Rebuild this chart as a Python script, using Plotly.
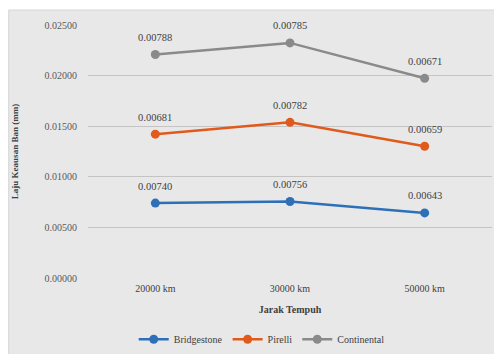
import plotly.graph_objects as go

categories = ["20000 km", "30000 km", "50000 km"]
bridgestone = [0.00740, 0.00756, 0.00643]
pirelli = [0.00681, 0.00782, 0.00659]
continental = [0.00788, 0.00785, 0.00671]
series_names = ["Bridgestone", "Pirelli", "Continental"]
colors = ["#2e70b8", "#e05a1c", "#8a8a8a"]

FONT = "Liberation Serif, Times New Roman, serif"
W, H = 494, 346
L, R, T, B = 79.5, 9.5, 17, 76
pw, ph = W - L - R, H - T - B

fig = go.Figure()
series = [bridgestone, pirelli, continental]
cum = [0.0] * len(categories)
annotations = []
for name, vals, col in zip(series_names, series, colors):
    cum = [c + v for c, v in zip(cum, vals)]
    fig.add_trace(go.Scatter(
        x=categories, y=cum, name=name, mode="lines+markers",
        line=dict(color=col, width=2.5),
        marker=dict(color=col, size=9),
        hoverinfo="skip",
    ))
    for c, yv, v in zip(categories, cum, vals):
        annotations.append(dict(x=c, y=yv, text=f"{v:.5f}", showarrow=False,
                                yshift=17, font=dict(family=FONT, size=10.5, color="#404040")))

fig.update_layout(
    width=W, height=H,
    margin=dict(l=L, r=R, t=T, b=B, autoexpand=False),
    paper_bgcolor="white",
    plot_bgcolor="rgba(0,0,0,0)",
    font=dict(family=FONT, size=10, color="#595959"),
    annotations=annotations,
    showlegend=True,
    legend=dict(orientation="h", x=0.43, xanchor="center", y=-0.185, yanchor="top",
                font=dict(family=FONT, size=10, color="#404040"),
                bgcolor="rgba(0,0,0,0)", tracegroupgap=0),
    shapes=[dict(type="rect", xref="paper", yref="paper",
                 x0=-L / pw, x1=1 + (R + 4) / pw, y0=-(B + 4) / ph, y1=1 + (T - 2) / ph,
                 fillcolor="#e8e8e8", line=dict(color="#d6d6d6", width=1), layer="below")],
)
fig.update_xaxes(
    range=[-0.5, 2.5], automargin=False,
    showgrid=False, showline=False, zeroline=False, ticks="", ticklabelstandoff=3,
    tickfont=dict(family=FONT, size=10, color="#404040"),
    title=dict(text="<b>Jarak Tempuh</b>", font=dict(family=FONT, size=10, color="#404040"), standoff=12),
)
fig.update_yaxes(
    range=[0, 0.025], dtick=0.005, tickformat=".5f", automargin=False,
    showgrid=True, gridcolor="#c4c4c4", gridwidth=1, zeroline=False, showline=False,
    tickfont=dict(family=FONT, size=10, color="#595959"), ticks="", ticklabelstandoff=10,
    title=dict(text="<b>Laju Keausan Ban (mm)</b>", font=dict(family=FONT, size=9, color="#404040"), standoff=24),
)

fig.write_html("out.html")
